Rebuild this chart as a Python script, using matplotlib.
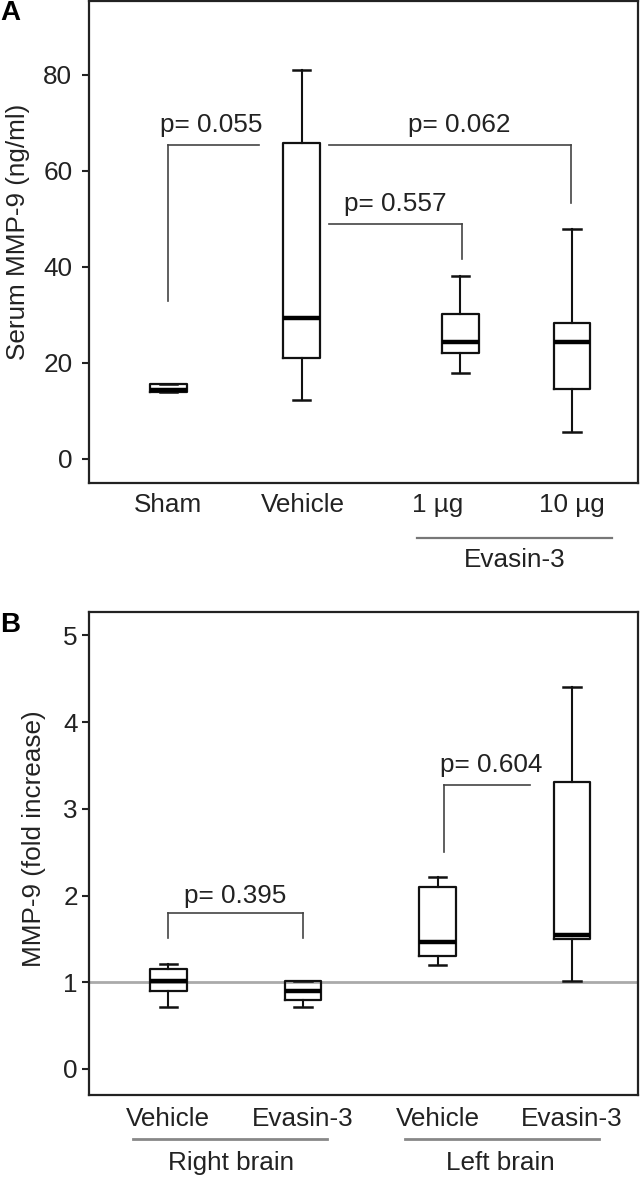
import matplotlib
matplotlib.use("Agg")
import matplotlib.pyplot as plt

plt.rcParams['font.family'] = ['Liberation Sans', 'DejaVu Sans']

# panel A: serum MMP-9 (ng/ml), five-number summaries
a_groups = ["Sham", "Vehicle", "1 \u00b5g", "10 \u00b5g"]
a_whislo = [14.0, 12.3, 18.0, 5.6]
a_q1 = [14.0, 21.1, 22.0, 14.6]
a_med = [14.4, 29.3, 24.4, 24.4]
a_q3 = [15.6, 65.8, 30.3, 28.3]
a_whishi = [15.6, 81.1, 38.1, 48.0]
a_pos = [1.0, 1.99, 3.17, 4.0]

# panel B: MMP-9 fold increase
b_groups = ["Vehicle", "Evasin-3", "Vehicle", "Evasin-3"]
b_whislo = [0.71, 0.71, 1.20, 1.01]
b_q1 = [0.90, 0.80, 1.30, 1.50]
b_med = [1.01, 0.90, 1.46, 1.55]
b_q3 = [1.15, 1.01, 2.10, 3.31]
b_whishi = [1.21, 1.01, 2.21, 4.41]
b_pos = [1.0, 2.0, 3.0, 4.0]

# p-value brackets: (x_left, x_right, y_top, left drop, right drop, label, text x, text y)
a_brackets = [
    (1.0, 1.67, 65.4, 33.0, None, "p= 0.055", 1.32, 69.6),
    (2.19, 3.99, 65.4, None, 53.4, "p= 0.062", 3.16, 69.6),
    (2.19, 3.18, 49.0, None, 41.7, "p= 0.557", 2.69, 53.2),
]
b_brackets = [
    (1.0, 2.0, 1.80, 1.51, 1.51, "p= 0.395", 1.5, 2.0),
    (3.05, 3.69, 3.27, 2.50, None, "p= 0.604", 3.4, 3.51),
]

FS = 18.8
W, H = 641, 1178
fig = plt.figure(figsize=(W / 100, H / 100), dpi=100)
axA = fig.add_axes([89 / W, 1 - 483 / H, 549 / W, 482 / H])
axB = fig.add_axes([89 / W, 1 - 1095 / H, 549 / W, 483 / H])


def stats(lo, q1, med, q3, hi):
    return [dict(whislo=lo[i], q1=q1[i], med=med[i], q3=q3[i], whishi=hi[i])
            for i in range(len(med))]


def draw_boxes(ax, st, pos):
    ax.bxp(st, positions=pos, widths=0.27, capwidths=0.13, showfliers=False,
           boxprops=dict(color="#111111", linewidth=1.6),
           whiskerprops=dict(color="#111111", linewidth=1.5),
           capprops=dict(color="#111111", linewidth=1.8),
           medianprops=dict(color="#000000", linewidth=3.2))


def draw_brackets(ax, brackets):
    for xl, xr, yt, dl, dr, lab, tx, ty in brackets:
        ax.plot([xl, xr], [yt, yt], color="#444444", lw=1.2)
        if dl is not None:
            ax.plot([xl, xl], [yt, dl], color="#444444", lw=1.2)
        if dr is not None:
            ax.plot([xr, xr], [yt, dr], color="#444444", lw=1.2)
        ax.text(tx, ty, lab, ha="center", va="center", fontsize=FS, color="#222222")


def style(ax):
    for s in ax.spines.values():
        s.set_linewidth(1.6)
        s.set_color("#222222")
    ax.set_xlim(0.41, 4.49)
    ax.tick_params(axis="x", length=0, labelsize=FS, colors="#222222")
    ax.tick_params(axis="y", length=5, width=1.5, labelsize=FS, colors="#222222")


# panel A
draw_boxes(axA, stats(a_whislo, a_q1, a_med, a_q3, a_whishi), a_pos)
draw_brackets(axA, a_brackets)
style(axA)
axA.set_ylim(-5, 95.4)
axA.set_yticks([0, 20, 40, 60, 80])
axA.set_xticks([1, 2, 3, 4])
axA.set_xticklabels(a_groups)
axA.tick_params(axis="x", pad=7)
axA.tick_params(axis="y", pad=7)
axA.set_ylabel("Serum MMP-9 (ng/ml)", fontsize=FS, color="#222222")
axA.yaxis.set_label_coords(-0.107, 0.52)
xt = axA.get_xaxis_transform()
axA.plot([2.85, 4.30], [-0.114, -0.114], transform=xt, clip_on=False, color="#777777", lw=1.6)
axA.text(3.575, -0.160, "Evasin-3", transform=xt, ha="center", va="center",
         fontsize=FS, color="#222222")

# panel B
axB.axhline(1.0, color="#aaaaaa", lw=2, zorder=0)
draw_boxes(axB, stats(b_whislo, b_q1, b_med, b_q3, b_whishi), b_pos)
draw_brackets(axB, b_brackets)
style(axB)
axB.set_ylim(-0.3, 5.27)
axB.set_yticks([0, 1, 2, 3, 4, 5])
axB.set_xticks(b_pos)
axB.set_xticklabels(b_groups)
axB.tick_params(axis="x", pad=9)
axB.tick_params(axis="y", pad=3)
axB.set_ylabel("MMP-9 (fold increase)", fontsize=FS, color="#222222")
axB.yaxis.set_label_coords(-0.078, 0.53)
xt = axB.get_xaxis_transform()
for x0, x1, lab, tx in [(0.74, 2.18, "Right brain", 1.465), (2.76, 4.20, "Left brain", 3.47)]:
    axB.plot([x0, x1], [-0.091, -0.091], transform=xt, clip_on=False, color="#888888", lw=2)
    axB.text(tx, -0.141, lab, transform=xt, ha="center", va="center",
             fontsize=FS, color="#222222")

fig.text(0 / W, 1 - 13 / H, "A", fontsize=20, fontweight="bold", va="center", ha="left")
fig.text(0 / W, 1 - 625 / H, "B", fontsize=20, fontweight="bold", va="center", ha="left")

fig.savefig("out.png", dpi=100)
